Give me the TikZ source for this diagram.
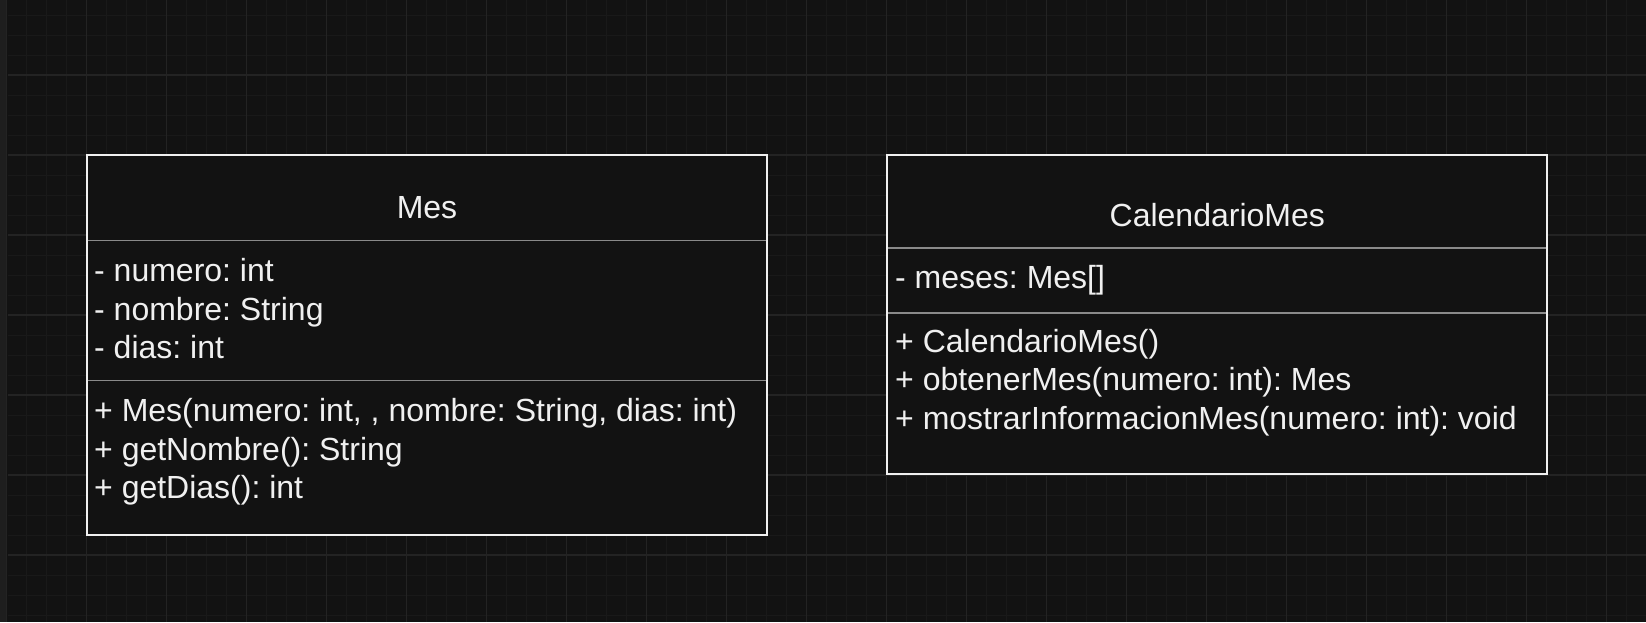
\documentclass[tikz,border=0pt]{standalone}
\usepackage{fontspec}
\setmainfont{Liberation Sans}
\frenchspacing
\definecolor{canvasbg}{HTML}{121212}
\definecolor{minorgrid}{HTML}{191919}
\definecolor{majorgrid}{HTML}{232323}
\definecolor{leftstrip}{HTML}{1E1E1E}
\definecolor{boxline}{HTML}{F0F0F0}
\definecolor{divline}{HTML}{8A8A8A}
\definecolor{labeltext}{HTML}{F0F0F0}
\tikzset{
  classbox/.style = {draw = boxline, fill = canvasbg, line width = 2pt,
    inner sep = 0pt, outer sep = 0pt, anchor = north west},
  divider/.style = {draw = divline, line width = 1.7pt, shorten < = 1pt,
    shorten > = 1pt},
  member/.style = {text = labeltext, font = \fontsize{32}{38.4}\selectfont,
    inner sep = 0pt, anchor = base west},
  classname/.style = {member, anchor = base},
}

\begin{document}
\begin{tikzpicture}[x = 1pt, y = -1pt]
  \useasboundingbox (0, 0) rectangle (1646, 622);
  % canvas and grid
  \fill[canvasbg] (0, 0) rectangle (1646, 622);
  \fill[leftstrip] (0, 0) rectangle (6, 622);
  \foreach \x in {26.7, 46.7, ..., 1646}
    \draw[minorgrid, line width = 1pt] (\x, 0) -- (\x, 622);
  \foreach \y in {15, 35, ..., 622}
    \draw[minorgrid, line width = 1pt] (8, \y) -- (1646, \y);
  \foreach \x in {6.7, 86.7, ..., 1646}
    \draw[majorgrid, line width = 1.3pt] (\x, 0) -- (\x, 622);
  \foreach \y in {75, 155, ..., 622}
    \draw[majorgrid, line width = 1.3pt] (8, \y) -- (1646, \y);

  % class Mes
  \node[classbox, minimum width = 680.6pt, minimum height = 380pt] (mes)
  at (86.7, 155) {};
  \draw[divider] ([yshift = -85.5pt] mes.north west) --
  ([yshift = -85.5pt] mes.north east);
  \draw[divider] ([yshift = -225.5pt] mes.north west) --
  ([yshift = -225.5pt] mes.north east);
  \node[classname] (mes-name) at (427, 218.3) {Mes};
  \foreach \txt [count = \i] in {- numero: int, - nombre: String, - dias: int}
    \node[member] (mes-attr\i) at (94, {281.7 + 38.3*(\i - 1)}) {\txt};
  \foreach \txt [count = \i] in {{+ Mes(numero: int, , nombre: String, dias: int)},
    + getNombre(): String, + getDias(): int}
    \node[member] (mes-op\i) at (94, {421.7 + 38.3*(\i - 1)}) {\txt};

  % class CalendarioMes
  \node[classbox, minimum width = 660pt, minimum height = 319.3pt] (cal)
  at (887.3, 155) {};
  \draw[divider] ([yshift = -93.3pt] cal.north west) --
  ([yshift = -93.3pt] cal.north east);
  \draw[divider] ([yshift = -157.7pt] cal.north west) --
  ([yshift = -157.7pt] cal.north east);
  \node[classname] (cal-name) at (1217.3, 226) {CalendarioMes};
  \node[member] (cal-attr1) at (895, 288.3) {- meses: Mes[]};
  \foreach \txt [count = \i] in {+ CalendarioMes(),
    + obtenerMes(numero: int): Mes,
    + mostrarInformacionMes(numero: int): void}
    \node[member] (cal-op\i) at (895, {352.3 + 38.4*(\i - 1)}) {\txt};
\end{tikzpicture}
\end{document}
